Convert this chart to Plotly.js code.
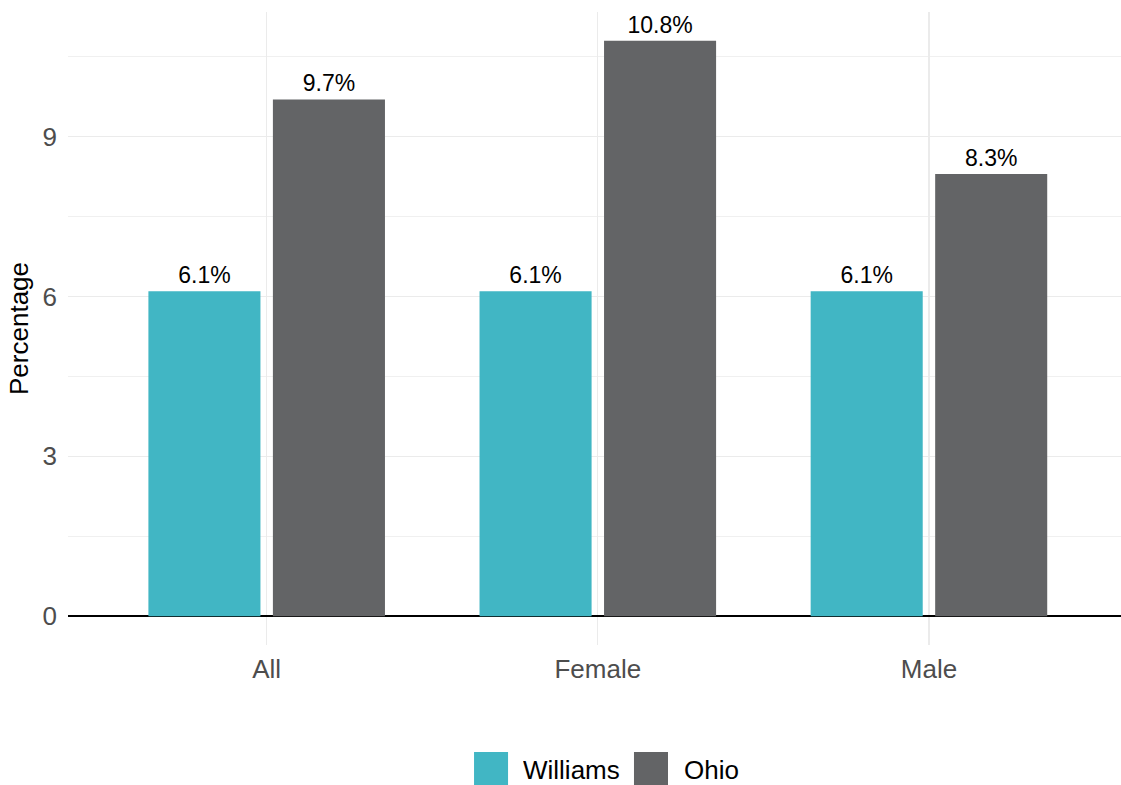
<!DOCTYPE html>
<html>
<head>
<meta charset="utf-8">
<script src="https://cdn.plot.ly/plotly-3.0.1.min.js"></script>
<style>html,body{margin:0;padding:0;background:#fff;}#chart{width:1121px;height:785px;}</style>
</head>
<body>
<div id="chart"></div>
<script>
const categories = ["All", "Female", "Male"];
const williams = [6.1, 6.1, 6.1];
const ohio = [9.7, 10.8, 8.3];
const seriesNames = ["Williams", "Ohio"];
const colors = ["#41B6C4", "#636466"];

const FONT = "Liberation Sans, Arial, sans-serif";
const fmt = v => v.toFixed(1) + "%";
const mk = (name, vals, color) => ({
  type: "bar", name: name, x: categories, y: vals,
  marker: {color: color},
  text: vals.map(fmt), textposition: "outside",
  textfont: {family: FONT, size: 23, color: "#000"},
  cliponaxis: false, hoverinfo: "skip", showlegend: false
});
const data = [mk(seriesNames[0], williams, colors[0]), mk(seriesNames[1], ohio, colors[1])];

// custom legend (large square keys, as in the reference)
const legendKeys = [
  {x0: 0.3856, x1: 0.4179, tx: 0.4311},
  {x0: 0.5375, x1: 0.5698, tx: 0.5840}
];
const shapes = legendKeys.map((k, i) => ({
  type: "rect", xref: "paper", yref: "paper", x0: k.x0, x1: k.x1, y0: -0.169, y1: -0.2227,
  fillcolor: colors[i], line: {width: 0}
}));
const annotations = legendKeys.map((k, i) => ({
  xref: "paper", yref: "paper", x: k.tx, y: -0.1975, xanchor: "left", yanchor: "middle",
  text: seriesNames[i], showarrow: false, borderpad: 0, height: 26, valign: "middle",
  font: {family: FONT, size: 26, color: "#000"}
}));

const layout = {
  width: 1121, height: 785,
  margin: {l: 68, r: 0, t: 12, b: 140},
  paper_bgcolor: "#fff", plot_bgcolor: "#fff",
  barmode: "group", bargap: 0.248, bargroupgap: 0.1,
  font: {family: FONT},
  xaxis: {
    range: [-0.6, 2.58], showgrid: true, gridcolor: "#ebebeb", gridwidth: 1.2,
    tickfont: {size: 26, color: "#4d4d4d"}, ticks: "", showline: false, zeroline: false,
    ticklabelstandoff: 6
  },
  yaxis: {
    range: [-0.54, 11.34], tickvals: [0, 3, 6, 9], showgrid: true, gridcolor: "#ebebeb", gridwidth: 1.2,
    minor: {tickvals: [1.5, 4.5, 7.5, 10.5], showgrid: true, gridcolor: "#f0f0f0", gridwidth: 1},
    zeroline: true, zerolinecolor: "#000", zerolinewidth: 1.5,
    tickfont: {size: 26, color: "#4d4d4d"}, ticks: "", ticklabelstandoff: 10,
    title: {text: "Percentage", font: {size: 26, color: "#000"}, standoff: 6}
  },
  showlegend: false,
  shapes: shapes,
  annotations: annotations
};
Plotly.newPlot("chart", data, layout, {displayModeBar: false, staticPlot: true});
</script>
</body>
</html>
